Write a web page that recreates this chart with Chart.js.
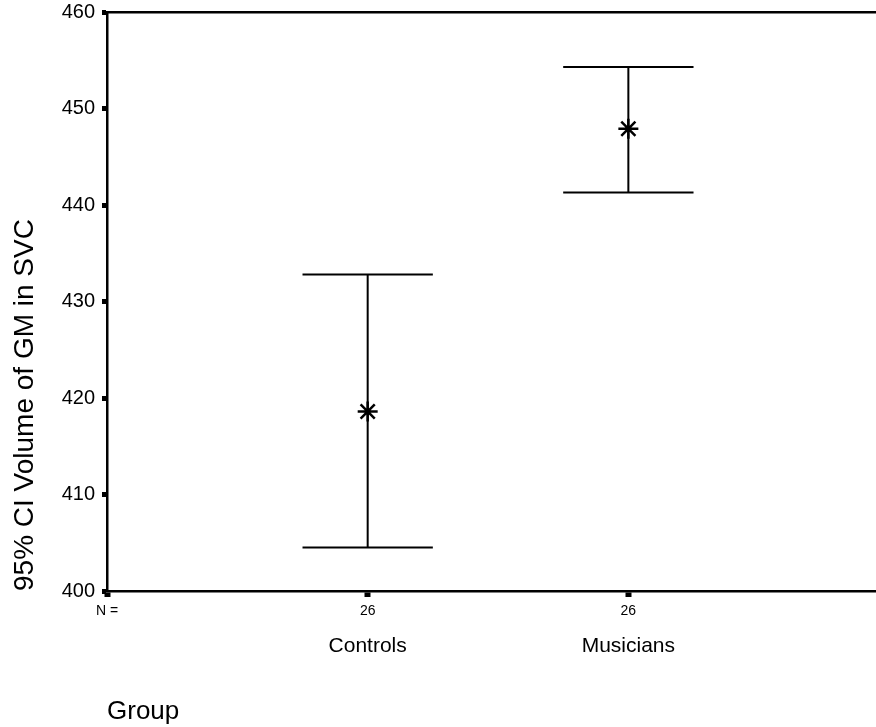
<!DOCTYPE html>
<html>
<head>
<meta charset="utf-8">
<script src="https://cdn.jsdelivr.net/npm/chart.js@4.4.0/dist/chart.umd.min.js"></script>
<style>
  body { margin: 0; background: #fff; }
  canvas { display: block; }
</style>
</head>
<body>
<canvas id="ci-chart" width="876" height="727"></canvas>
<script>
// Values
const groups = ["Controls", "Musicians"];
const groupN = [26, 26];
const means = [418.6, 447.9];
const ciLow = [404.5, 441.3];
const ciHigh = [432.8, 454.3];
const yTicks = [400, 410, 420, 430, 440, 450, 460];

const FONT = "'Liberation Sans', Arial, sans-serif";
const CAP = 0.25; // half width of the whisker caps, in x units
const INK = "#000";

const ctx = document.getElementById("ci-chart").getContext("2d");

// fixed axis box sizes, no extra padding around the plot area
const fixBox = (size) => (s) => {
    if (s.isHorizontal()) s.height = size; else s.width = size;
    s.paddingTop = s.paddingBottom = s.paddingLeft = s.paddingRight = 0;
};

// one line dataset per group: top cap, vertical bar, bottom cap (null = gap)
const ciDatasets = groups.map((g, i) => {
    const x = i + 1;
    return {
        type: "line",
        label: g,
        data: [
            { x: x - CAP, y: ciHigh[i] }, { x: x + CAP, y: ciHigh[i] }, { x: x, y: null },
            { x: x, y: ciHigh[i] }, { x: x, y: ciLow[i] }, { x: x, y: null },
            { x: x - CAP, y: ciLow[i] }, { x: x + CAP, y: ciLow[i] },
        ],
        borderColor: INK,
        borderWidth: 2,
        pointRadius: 0,
        spanGaps: false,
        fill: false,
    };
});

const meanDataset = {
    type: "scatter",
    label: "Mean",
    data: means.map((m, i) => ({ x: i + 1, y: m })),
    pointStyle: "star",
    pointRadius: 10,
    borderColor: INK,
    borderWidth: 2.5,
    backgroundColor: INK,
};

const xRange = { min: 0, max: 2.95 };

new Chart(ctx, {
    type: "scatter",
    data: { datasets: [...ciDatasets, meanDataset] },
    options: {
        responsive: false,
        animation: false,
        layout: { padding: 0, autoPadding: false },
        plugins: { legend: { display: false }, tooltip: { enabled: false } },
        scales: {
            y: {
                type: "linear",
                min: yTicks[0],
                max: yTicks[yTicks.length - 1],
                afterBuildTicks: (s) => { s.ticks = yTicks.map((v) => ({ value: v })); },
                afterFit: fixBox(107),
                ticks: { color: INK, font: { family: FONT, size: 20 }, padding: 7 },
                grid: { drawOnChartArea: false, color: INK, tickLength: 5, tickWidth: 5 },
                border: { color: INK, width: 2.5 },
                title: {
                    display: true,
                    text: "95% CI Volume of GM in SVC",
                    align: "start",
                    color: INK,
                    font: { family: FONT, size: 28, lineHeight: 1 },
                    padding: { top: 11, bottom: 0 },
                },
            },
            x: {
                type: "linear",
                position: "bottom",
                weight: 0,
                ...xRange,
                afterBuildTicks: (s) => { s.ticks = [0, 1, 2].map((v) => ({ value: v })); },
                afterFit: fixBox(30),
                ticks: {
                    color: INK,
                    font: { family: FONT, size: 14 },
                    padding: 6,
                    maxRotation: 0,
                    callback: (v) => (v === 0 ? "N =" : String(groupN[v - 1])),
                },
                grid: { drawOnChartArea: false, color: INK, tickLength: 6, tickWidth: 6 },
                border: { color: INK, width: 2.5 },
            },
            x2: {
                type: "linear",
                position: "bottom",
                weight: 1,
                ...xRange,
                afterBuildTicks: (s) => { s.ticks = [1, 2].map((v) => ({ value: v })); },
                afterFit: fixBox(106),
                ticks: {
                    color: INK,
                    font: { family: FONT, size: 21 },
                    padding: 5,
                    maxRotation: 0,
                    callback: (v) => groups[v - 1],
                },
                grid: { display: false },
                border: { display: false },
                title: {
                    display: true,
                    text: "Group",
                    align: "start",
                    color: INK,
                    font: { family: FONT, size: 26, lineHeight: 1 },
                    padding: { top: 0, bottom: 2 },
                },
            },
            x3: {
                type: "linear",
                position: "top",
                ...xRange,
                afterFit: fixBox(12),
                ticks: { display: false },
                grid: { display: false },
                border: { color: INK, width: 2.5 },
            },
        },
    },
});
</script>
</body>
</html>
